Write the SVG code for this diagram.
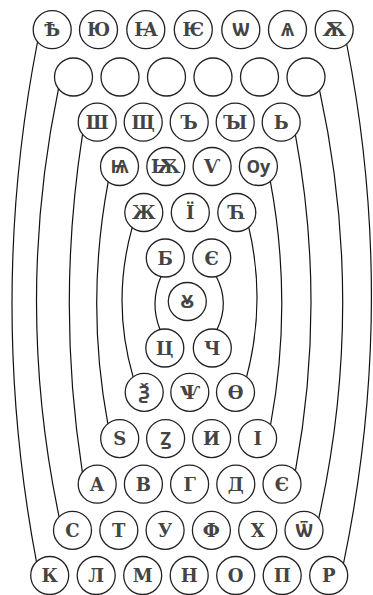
<svg xmlns="http://www.w3.org/2000/svg" width="373" height="595" viewBox="0 0 373 595">
<style>
.n circle{fill:#fff;stroke:#222;stroke-width:1.3}
.n text{font-family:"DejaVu Serif","Noto Sans",serif;font-weight:bold;font-size:18px;fill:#444;text-anchor:middle}
#edges path{fill:none;stroke:#111;stroke-width:1.2}
</style>
<rect width="373" height="595" fill="#fff"/>
<g id="edges">
<path d="M37.5,42 Q-13,301 36.5,562"/>
<path d="M58.5,88.6 Q14.2,302.7 59.1,516.8"/>
<path d="M82.55,134.3 Q56.1,303.3 82.4,472.3"/>
<path d="M108.2,181.8 Q85.4,302.75 107.8,423.7"/>
<path d="M132.2,227.4 Q111.4,302.15 133.1,376.9"/>
<path d="M161,276.5 Q149.5,303 160,329.5"/>
<path d="M346.7,44 Q397.7,303.75 343.5,563.5"/>
<path d="M319.6,90.3 Q366.25,304.4 318.7,518.5"/>
<path d="M295.4,134.8 Q326.6,302.7 295.45,470.6"/>
<path d="M270.3,181.2 Q293.15,302.85 270.6,424.5"/>
<path d="M248.8,227.4 Q266.3,302.15 246.6,376.9"/>
<path d="M216.3,276.5 Q229.95,303 217,329.5"/>
</g>
<g id="r1">
<g class="n" id="n_yat"><circle cx="52.2" cy="29.7" r="19"/><text x="52.2" y="36.3">Ѣ</text></g>
<g class="n" id="n_yu"><circle cx="98.5" cy="29.7" r="19"/><text x="98.5" y="36.3">Ю</text></g>
<g class="n" id="n_ya"><circle cx="145.8" cy="29.7" r="19"/><text x="145.8" y="36.3">Ꙗ</text></g>
<g class="n" id="n_ye"><circle cx="193.3" cy="29.7" r="19"/><text x="193.3" y="36.3">Ѥ</text></g>
<g class="n" id="n_omega"><circle cx="240.8" cy="29.7" r="19"/><text x="240.8" y="36.3">Ѡ</text></g>
<g class="n" id="n_yus_s"><circle cx="287.5" cy="29.7" r="19"/><text x="287.5" y="36.3">Ѧ</text></g>
<g class="n" id="n_yus_b"><circle cx="334.2" cy="29.7" r="19"/><text x="334.2" y="36.3">Ѫ</text></g>
</g>
<g id="r2">
<g class="n" id="n_e1"><circle cx="73.5" cy="77" r="19"/></g>
<g class="n" id="n_e2"><circle cx="120" cy="77" r="19"/></g>
<g class="n" id="n_e3"><circle cx="166.5" cy="77" r="19"/></g>
<g class="n" id="n_e4"><circle cx="213" cy="77" r="19"/></g>
<g class="n" id="n_e5"><circle cx="259.5" cy="77" r="19"/></g>
<g class="n" id="n_e6"><circle cx="306" cy="77" r="19"/></g>
</g>
<g id="r3">
<g class="n" id="n_sha"><circle cx="97.2" cy="122.2" r="19"/><text x="97.2" y="128.8">Ш</text></g>
<g class="n" id="n_shcha"><circle cx="143.2" cy="122.2" r="19"/><text x="143.2" y="128.8">Щ</text></g>
<g class="n" id="n_yer"><circle cx="189.2" cy="122.2" r="19"/><text x="189.2" y="128.8">Ъ</text></g>
<g class="n" id="n_yery"><circle cx="235.2" cy="122.2" r="19"/><text x="235.2" y="128.8">Ꙑ</text></g>
<g class="n" id="n_soft"><circle cx="281.2" cy="122.2" r="19"/><text x="281.2" y="128.8">Ь</text></g>
</g>
<g id="r4">
<g class="n" id="n_iyus_s"><circle cx="119.5" cy="166.5" r="19"/><text x="119.5" y="173.1">Ѩ</text></g>
<g class="n" id="n_iyus_b"><circle cx="165.8" cy="166.5" r="19"/><text x="165.8" y="173.1">Ѭ</text></g>
<g class="n" id="n_izhitsa"><circle cx="212.1" cy="166.5" r="19"/><text x="212.1" y="173.1">Ѵ</text></g>
<g class="n" id="n_uk"><circle cx="258.4" cy="166.5" r="19"/><text x="258.4" y="173.1">Ѹ</text></g>
</g>
<g id="r5">
<g class="n" id="n_zhe"><circle cx="143.8" cy="212.5" r="19"/><text x="143.8" y="219.1">Ж</text></g>
<g class="n" id="n_yi"><circle cx="190.3" cy="212.5" r="19"/><text x="190.3" y="219.1">Ї</text></g>
<g class="n" id="n_tshe"><circle cx="236.8" cy="212.5" r="19"/><text x="236.8" y="219.1">Ћ</text></g>
</g>
<g id="r6">
<g class="n" id="n_be"><circle cx="165.3" cy="258" r="19"/><text x="165.3" y="264.6">Б</text></g>
<g class="n" id="n_ie"><circle cx="211.7" cy="258" r="19"/><text x="211.7" y="264.6">Є</text></g>
</g>
<g id="r7">
<g class="n" id="n_monouk"><circle cx="187.3" cy="301.5" r="19"/><text x="187.3" y="308.1">Ꙋ</text></g>
</g>
<g id="r8">
<g class="n" id="n_tse"><circle cx="164.8" cy="348" r="19"/><text x="164.8" y="354.6">Ц</text></g>
<g class="n" id="n_che"><circle cx="212.3" cy="348" r="19"/><text x="212.3" y="354.6">Ч</text></g>
</g>
<g id="r9">
<g class="n" id="n_ksi"><circle cx="144.2" cy="392.3" r="19"/><text x="144.2" y="398.9">Ѯ</text></g>
<g class="n" id="n_psi"><circle cx="189.8" cy="392.3" r="19"/><text x="189.8" y="398.9">Ѱ</text></g>
<g class="n" id="n_fita"><circle cx="235.5" cy="392.3" r="19"/><text x="235.5" y="398.9">Ѳ</text></g>
</g>
<g id="r10">
<g class="n" id="n_dze"><circle cx="119.7" cy="438.6" r="19"/><text x="119.7" y="445.2">Ѕ</text></g>
<g class="n" id="n_zemlya"><circle cx="165.6" cy="438.6" r="19"/><text x="165.6" y="445.2">Ꙁ</text></g>
<g class="n" id="n_i"><circle cx="211.6" cy="438.6" r="19"/><text x="211.6" y="445.2">И</text></g>
<g class="n" id="n_i2"><circle cx="257.6" cy="438.6" r="19"/><text x="257.6" y="445.2">І</text></g>
</g>
<g id="r11">
<g class="n" id="n_a"><circle cx="97.2" cy="484.2" r="19"/><text x="97.2" y="490.8">А</text></g>
<g class="n" id="n_ve"><circle cx="143.4" cy="484.2" r="19"/><text x="143.4" y="490.8">В</text></g>
<g class="n" id="n_ge"><circle cx="189.6" cy="484.2" r="19"/><text x="189.6" y="490.8">Г</text></g>
<g class="n" id="n_de"><circle cx="235.8" cy="484.2" r="19"/><text x="235.8" y="490.8">Д</text></g>
<g class="n" id="n_ye2"><circle cx="282" cy="484.2" r="19"/><text x="282" y="490.8">Є</text></g>
</g>
<g id="r12">
<g class="n" id="n_es"><circle cx="72.5" cy="530.3" r="19"/><text x="72.5" y="536.9">С</text></g>
<g class="n" id="n_te"><circle cx="118.8" cy="530.3" r="19"/><text x="118.8" y="536.9">Т</text></g>
<g class="n" id="n_u"><circle cx="165.1" cy="530.3" r="19"/><text x="165.1" y="536.9">У</text></g>
<g class="n" id="n_ef"><circle cx="211.4" cy="530.3" r="19"/><text x="211.4" y="536.9">Ф</text></g>
<g class="n" id="n_kha"><circle cx="257.7" cy="530.3" r="19"/><text x="257.7" y="536.9">Х</text></g>
<g class="n" id="n_ot"><circle cx="304" cy="530.3" r="19"/><text x="304" y="536.9">Ѿ</text></g>
</g>
<g id="r13">
<g class="n" id="n_ka"><circle cx="49.7" cy="575.5" r="19"/><text x="49.7" y="582.1">К</text></g>
<g class="n" id="n_el"><circle cx="96.2" cy="575.5" r="19"/><text x="96.2" y="582.1">Л</text></g>
<g class="n" id="n_em"><circle cx="142.7" cy="575.5" r="19"/><text x="142.7" y="582.1">М</text></g>
<g class="n" id="n_en"><circle cx="189.2" cy="575.5" r="19"/><text x="189.2" y="582.1">Н</text></g>
<g class="n" id="n_o"><circle cx="235.7" cy="575.5" r="19"/><text x="235.7" y="582.1">О</text></g>
<g class="n" id="n_pe"><circle cx="282.2" cy="575.5" r="19"/><text x="282.2" y="582.1">П</text></g>
<g class="n" id="n_er"><circle cx="328.7" cy="575.5" r="19"/><text x="328.7" y="582.1">Р</text></g>
</g>
</svg>
